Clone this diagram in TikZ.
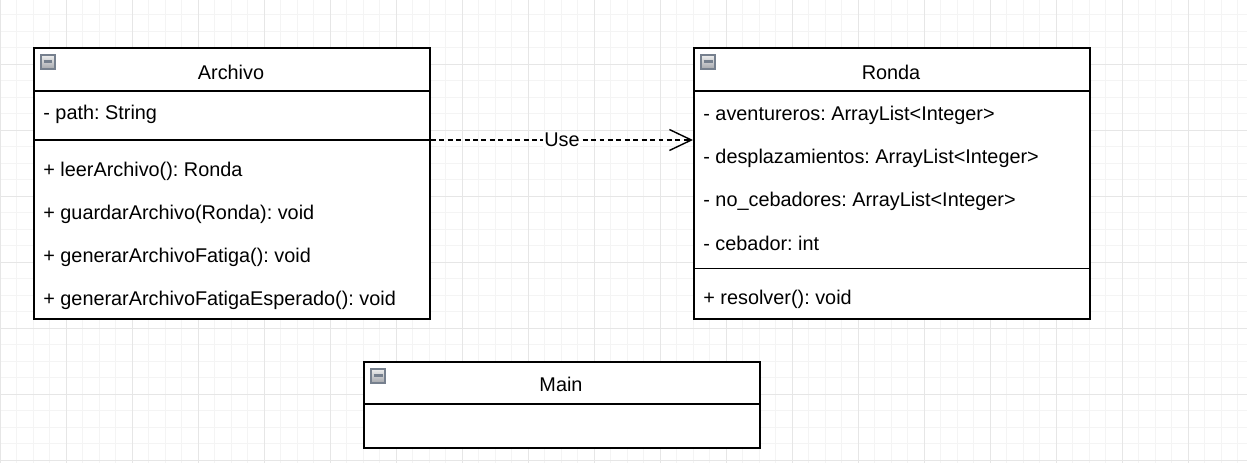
\documentclass[tikz,border=0pt]{standalone}
\usepackage{fontspec}
\setmainfont{Liberation Sans}
\usetikzlibrary{arrows.meta,positioning}
\definecolor{gridminor}{HTML}{F4F4F4}
\definecolor{gridmajor}{HTML}{E6E6E6}
\definecolor{iconedge}{HTML}{76808E}
\definecolor{icontop}{HTML}{EEEEEE}
\definecolor{iconbottom}{HTML}{A4A7AC}

\begin{document}
\frenchspacing
\begin{tikzpicture}[x=0.02cm,y=-0.02cm,
    minorgrid/.style={gridminor,line width=0.55pt},
    majorgrid/.style={gridmajor,line width=0.55pt},
    classbox/.style={draw,line width=1.1pt,fill=white,anchor=north west,
        minimum width=7.92cm,inner sep=0pt},
    classline/.style={line width=1.1pt},
    hdrtext/.style={font=\fontsize{11.3}{13}\selectfont},
    membertext/.style={anchor=west,inner sep=0pt,font=\fontsize{11.3}{13}\selectfont},
    collapseicon/.style={draw=iconedge,line width=0.8pt,top color=icontop,
        bottom color=iconbottom,minimum size=0.28cm,inner sep=0pt,
        path picture={\draw[line width=1.2pt]
            ([xshift=-0.09cm,yshift=0.01cm]path picture bounding box.center) --
            ([xshift=0.09cm,yshift=0.01cm]path picture bounding box.center);}},
    usedep/.style={dash pattern=on 2.8pt off 2pt,line width=0.8pt,
        -{Straight Barb[length=0.44cm,width=0.42cm,line width=0.8pt]}},
    uselabel/.style={fill=white,inner sep=0.5pt,font=\fontsize{11.3}{13}\selectfont}]

  \useasboundingbox (0,0) rectangle (1247,463);
  % grid
  \begin{scope}
    \clip (0,0) rectangle (1247,463);
    \foreach \i in {0,...,75} \draw[minorgrid] (\i*16.5,0) -- (\i*16.5,463);
    \foreach \j in {-1,...,28} \draw[minorgrid] (0,14.5+\j*16.5) -- (1247,14.5+\j*16.5);
    \foreach \i in {0,...,18} \draw[majorgrid] (\i*66,0) -- (\i*66,463);
    \foreach \j in {0,...,7} \draw[majorgrid] (0,-2+\j*66) -- (1247,-2+\j*66);
  \end{scope}

  % Archivo
  \node[classbox,minimum height=5.42cm] (archivo) at (33,47) {};
  \draw[classline] (33,90.7) -- (429,90.7);
  \coordinate (archivoSep) at (33,140);
  \draw[classline] (archivoSep) -- (archivoSep -| archivo.east);
  \node[collapseicon] (archivoIcon) at (48,62) {};
  \node[hdrtext] (archivoName) at (231,72) {Archivo};
  \node[membertext] (archivoPath) at (43,114) {- path: String};
  \node[membertext] (archivoLeer) at (43,171) {+ leerArchivo(): Ronda};
  \node[membertext] (archivoGuardar) at (43,214) {+ guardarArchivo(Ronda): void};
  \node[membertext] (archivoFatiga) at (43,257) {+ generarArchivoFatiga(): void};
  \node[membertext] (archivoEsperado) at (43,300) {+ generarArchivoFatigaEsperado(): void};

  % Ronda
  \node[classbox,minimum height=5.42cm] (ronda) at (693,47) {};
  \draw[classline] (693,90.7) -- (1089,90.7);
  \draw[classline] (693,268.5) -- (1089,268.5);
  \node[collapseicon] (rondaIcon) at (708,62) {};
  \node[hdrtext] (rondaName) at (891,72) {Ronda};
  \node[membertext] (rondaAv) at (703,115) {- aventureros: ArrayList<Integer>};
  \node[membertext] (rondaDesp) at (703,158) {- desplazamientos: ArrayList<Integer>};
  \node[membertext] (rondaNoCeb) at (703,201) {- no\_cebadores: ArrayList<Integer>};
  \node[membertext] (rondaCeb) at (703,243) {- cebador: int};
  \node[membertext] (rondaResolver) at (703,299) {+ resolver(): void};

  % Main
  \node[classbox,minimum height=1.72cm] (main) at (363,361) {};
  \draw[classline] (363,404) -- (759,404);
  \node[collapseicon] (mainIcon) at (378,376) {};
  \node[hdrtext] (mainName) at (561,384) {Main};

  % dependency
  \draw[usedep] (archivo.east |- archivoSep) -- (ronda.west |- archivoSep)
    node[midway,uselabel] {Use};
\end{tikzpicture}
\end{document}
